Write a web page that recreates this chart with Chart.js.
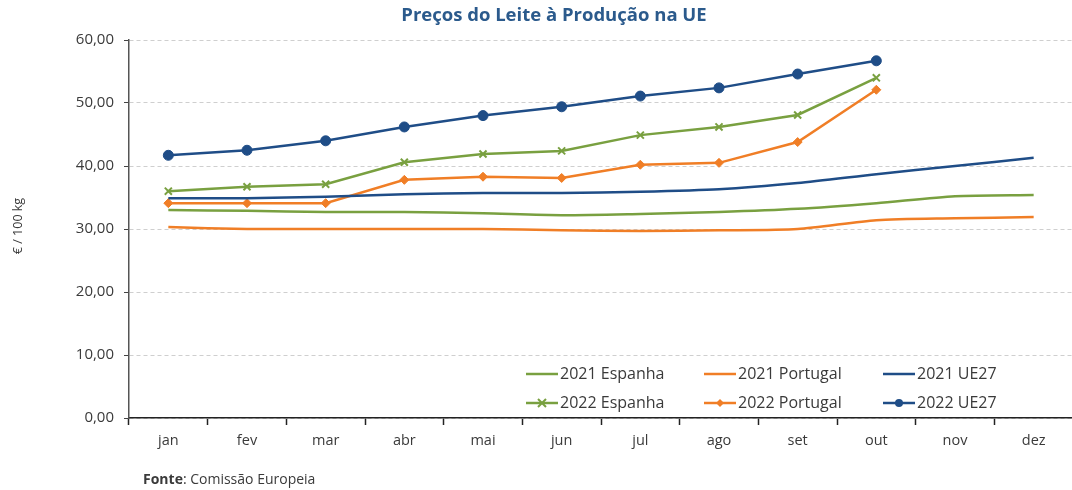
<!DOCTYPE html>
<html><head><meta charset="utf-8">
<script src="https://cdn.jsdelivr.net/npm/chart.js@4"></script>
<style>html,body{margin:0;padding:0;background:#fff;overflow:hidden}#wrap{width:1072px;height:490px;overflow:hidden}</style>
</head><body><div id="wrap"><canvas id="c" width="1080" height="490"></canvas></div>
<script>
const months = ['jan','fev','mar','abr','mai','jun','jul','ago','set','out','nov','dez'];
const es2021 = [33.0,32.9,32.7,32.7,32.5,32.2,32.4,32.7,33.2,34.1,35.2,35.4];
const pt2021 = [30.3,30.0,30.0,30.0,30.0,29.8,29.7,29.8,30.0,31.4,31.7,31.9];
const ue2021 = [34.9,34.9,35.1,35.5,35.7,35.7,35.9,36.3,37.3,38.7,40.0,41.3];
const es2022 = [36.0,36.7,37.1,40.6,41.9,42.4,44.9,46.2,48.1,54.0,null,null];
const pt2022 = [34.1,34.1,34.1,37.8,38.3,38.1,40.2,40.5,43.8,52.1,null,null];
const ue2022 = [41.7,42.5,44.0,46.2,48.0,49.4,51.1,52.4,54.6,56.7,null,null];
const seriesNames = ['2021 Espanha','2021 Portugal','2021 UE27','2022 Espanha','2022 Portugal','2022 UE27'];
const yTicks = [0,10,20,30,40,50,60];

const GREEN='#79A040', ORANGE='#F07E26', BLUE='#1F4D87';
const FONT='"Open Sans", Lato, sans-serif';
const TXT='#3a3a3a';

function ds(label,data,color,style,r){
  return {label,data,borderColor:color,backgroundColor:color,borderWidth:2.5,
    pointStyle:style||false,pointRadius:style?r:0,pointHoverRadius:style?r:0,
    pointBorderWidth:style==='crossRot'?2:1,tension:0,spanGaps:false};
}
const datasets=[
  ds(seriesNames[0],es2021,GREEN),
  ds(seriesNames[1],pt2021,ORANGE),
  ds(seriesNames[2],ue2021,BLUE),
  ds(seriesNames[3],es2022,GREEN,'crossRot',5),
  ds(seriesNames[4],pt2022,ORANGE,'rectRot',4.5),
  ds(seriesNames[5],ue2022,BLUE,'circle',5),
];
datasets.slice(0,3).forEach(d=>{d.tension=0.25;});

const legendPos=[[526,374],[704,374],[883,374],[526,403],[704,403],[883,403]];
const deco={
  id:'deco',
  afterDraw(chart){
    const ctx=chart.ctx;
    ctx.save();
    ctx.fillStyle='#2B5A8C';
    ctx.font='bold 18.5px '+FONT;
    ctx.textAlign='center';ctx.textBaseline='middle';
    ctx.fillText('Preços do Leite à Produção na UE',554,16);
    ctx.save();
    ctx.translate(18,226);ctx.rotate(-Math.PI/2);
    ctx.fillStyle=TXT;ctx.font='12.5px '+FONT;
    ctx.fillText('€ / 100 kg',0,0);
    ctx.restore();
    ctx.textAlign='left';
    ctx.font='bold 14px '+FONT;ctx.fillStyle=TXT;
    ctx.fillText('Fonte',143,480);
    const w=ctx.measureText('Fonte').width;
    ctx.font='14px '+FONT;
    ctx.fillText(': Comissão Europeia',143+w,480);
    ctx.font='16px '+FONT;
    datasets.forEach((d,i)=>{
      const [x,y]=legendPos[i];
      ctx.strokeStyle=d.borderColor;ctx.lineWidth=2.5;
      ctx.beginPath();ctx.moveTo(x,y);ctx.lineTo(x+32,y);ctx.stroke();
      if(d.pointStyle){
        ctx.fillStyle=d.borderColor;
        ctx.beginPath();
        if(d.pointStyle==='circle'){ctx.arc(x+16,y,4,0,Math.PI*2);ctx.fill();}
        else if(d.pointStyle==='rectRot'){ctx.moveTo(x+16,y-4);ctx.lineTo(x+20,y);ctx.lineTo(x+16,y+4);ctx.lineTo(x+12,y);ctx.closePath();ctx.fill();}
        else {ctx.lineWidth=2;ctx.moveTo(x+12,y-4);ctx.lineTo(x+20,y+4);ctx.moveTo(x+20,y-4);ctx.lineTo(x+12,y+4);ctx.stroke();}
      }
      ctx.fillStyle=TXT;ctx.textBaseline='middle';
      ctx.fillText(d.label,x+34,y);
    });
    ctx.restore();
  }
};

new Chart(document.getElementById('c'),{
  type:'line',
  data:{labels:months,datasets},
  options:{
    responsive:false,animation:false,
    layout:{padding:{top:40,right:2,left:0,bottom:0}},
    plugins:{legend:{display:false},title:{display:false},tooltip:{enabled:false}},
    scales:{
      x:{
        offset:true,
        grid:{offset:true,drawOnChartArea:false,drawTicks:true,tickLength:7,color:'#222',tickColor:'#222',tickWidth:1.5},
        border:{color:'#222',width:1.5},
        ticks:{color:TXT,font:{family:FONT,size:14.5},padding:7},
        afterFit(s){s.height=72;}
      },
      y:{
        min:0,max:60,
        afterBuildTicks(s){s.ticks=yTicks.map(v=>({value:v}));},
        grid:{color:'#cfcfcf',lineWidth:1,drawTicks:true,tickLength:5,tickColor:'#444',tickBorderDash:[]},
        border:{color:'#555',width:1.5,dash:[4,3]},
        ticks:{color:TXT,font:{family:FONT,size:15},padding:10,
          callback:v=>v.toFixed(2).replace('.',',')},
        afterFit(s){s.width=129;}
      }
    }
  },
  plugins:[deco]
});
</script></body></html>
